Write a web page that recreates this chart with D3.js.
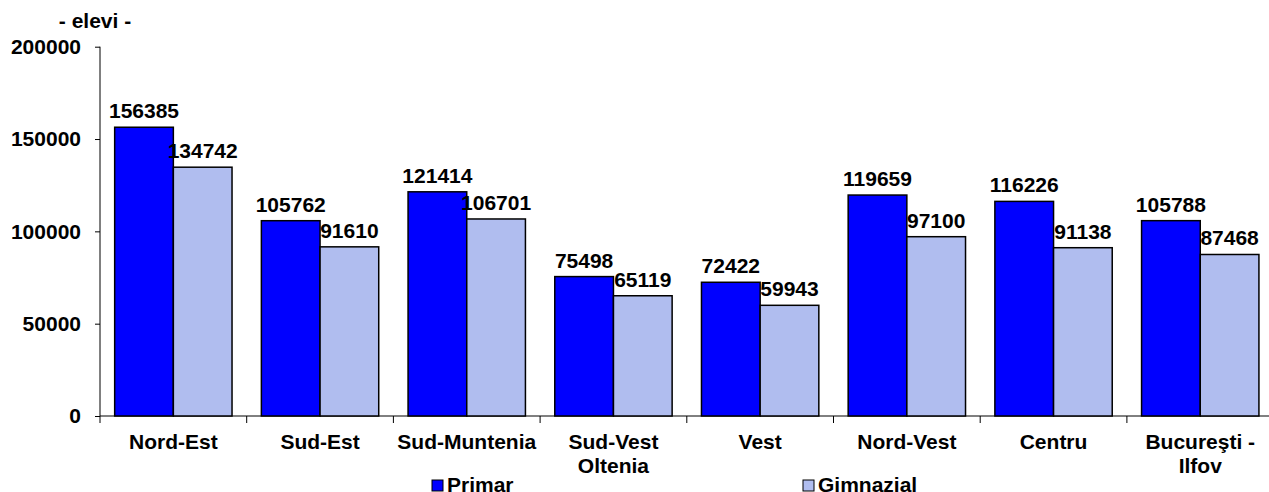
<!DOCTYPE html>
<html>
<head>
<meta charset="utf-8">
<script src="https://cdn.jsdelivr.net/npm/d3@7"></script>
<style>
  body { margin: 0; background: #fff; }
  svg text { font-family: "Liberation Sans", Arial, sans-serif; font-weight: bold; fill: #000; }
</style>
</head>
<body>
<svg></svg>
<script>
// regions (a "\n" splits the label over two lines)
const regiuni = ["Nord-Est", "Sud-Est", "Sud-Muntenia", "Sud-Vest\nOltenia", "Vest", "Nord-Vest", "Centru", "Bucureşti -\nIlfov"];
const serii = ["Primar", "Gimnazial"];
const primar = [156385, 105762, 121414, 75498, 72422, 119659, 116226, 105788];
const gimnazial = [134742, 91610, 106701, 65119, 59943, 97100, 91138, 87468];
const yTicks = [0, 50000, 100000, 150000, 200000];

var svgWidth = 1269,
    svgHeight = 492;

var fontSize = 21;

var color = d3.scaleOrdinal().domain(serii).range(["#0000ff", "#b0bdef"]);

var svg = d3.select("svg")
    .attr("width", svgWidth)
    .attr("height", svgHeight);

var data = regiuni.map((r, i) => ({ regiune: r, valori: [primar[i], gimnazial[i]] }));

//scales
var x0 = d3.scaleBand()
    .domain(regiuni)
    .range([100, 100 + 8 * 146.7])
    .paddingInner(0)
    .paddingOuter(0);

var x1 = d3.scaleBand()
    .domain(serii)
    .range([0, x0.bandwidth()])
    .paddingInner(0)
    .paddingOuter(0.25);

var y = d3.scaleLinear()
    .domain([0, 200000])
    .range([416, 46.7]);

//y axis
var yAxis = svg.append("g")
    .attr("transform", "translate(100,0)")
    .call(d3.axisLeft(y).tickValues(yTicks).tickSize(5).tickPadding(14).tickFormat(d => d));

yAxis.selectAll(".tick text").attr("font-size", fontSize);
yAxis.selectAll("path, line").attr("stroke", "#000").attr("stroke-width", 1);
yAxis.select(".domain").attr("d", "M0," + y(200000) + "V" + y(0));

//x axis line and ticks at category boundaries
svg.append("line")
    .attr("x1", 100).attr("x2", svgWidth)
    .attr("y1", y(0)).attr("y2", y(0))
    .attr("stroke", "#000");

svg.selectAll(".xtick")
    .data(regiuni)
    .enter()
    .append("line")
    .attr("class", "xtick")
    .attr("x1", d => x0(d)).attr("x2", d => x0(d))
    .attr("y1", y(0)).attr("y2", y(0) + 7)
    .attr("stroke", "#000");

//category labels
svg.selectAll(".xlabel")
    .data(regiuni)
    .enter()
    .append("text")
    .attr("class", "xlabel")
    .attr("text-anchor", "middle")
    .attr("font-size", fontSize)
    .each(function(d) {
        d.split("\n").forEach((line, i) => {
            d3.select(this).append("tspan")
                .attr("x", x0(d) + x0.bandwidth() / 2)
                .attr("y", 449 + i * 24)
                .text(line);
        });
    });

//bars
var groups = svg.selectAll(".grupa")
    .data(data)
    .enter()
    .append("g")
    .attr("transform", d => "translate(" + x0(d.regiune) + ",0)");

groups.selectAll("rect")
    .data(d => d.valori.map((v, i) => ({ serie: serii[i], v: v })))
    .enter()
    .append("rect")
    .attr("x", d => x1(d.serie))
    .attr("y", d => y(d.v))
    .attr("width", x1.bandwidth())
    .attr("height", d => y(0) - y(d.v))
    .attr("fill", d => color(d.serie))
    .attr("stroke", "#000")
    .attr("stroke-width", 1.5);

groups.selectAll(".valoare")
    .data(d => d.valori.map((v, i) => ({ serie: serii[i], v: v })))
    .enter()
    .append("text")
    .attr("class", "valoare")
    .attr("text-anchor", "middle")
    .attr("font-size", fontSize)
    .attr("x", d => x1(d.serie) + x1.bandwidth() / 2)
    .attr("y", d => y(d.v) - 9)
    .text(d => d.v);

//axis title
svg.append("text")
    .attr("x", 95)
    .attr("y", 28)
    .attr("text-anchor", "middle")
    .attr("font-size", fontSize)
    .text("- elevi -");

//legend
var legendX = [432, 803];
var legend = svg.selectAll(".legenda")
    .data(serii)
    .enter()
    .append("g")
    .attr("transform", (d, i) => "translate(" + legendX[i] + ",480)");

legend.append("rect")
    .attr("width", 11)
    .attr("height", 11)
    .attr("fill", d => color(d))
    .attr("stroke", "#000")
    .attr("stroke-width", 1);

legend.append("text")
    .attr("x", 15)
    .attr("y", 12)
    .attr("font-size", fontSize)
    .text(d => d);
</script>
</body>
</html>
